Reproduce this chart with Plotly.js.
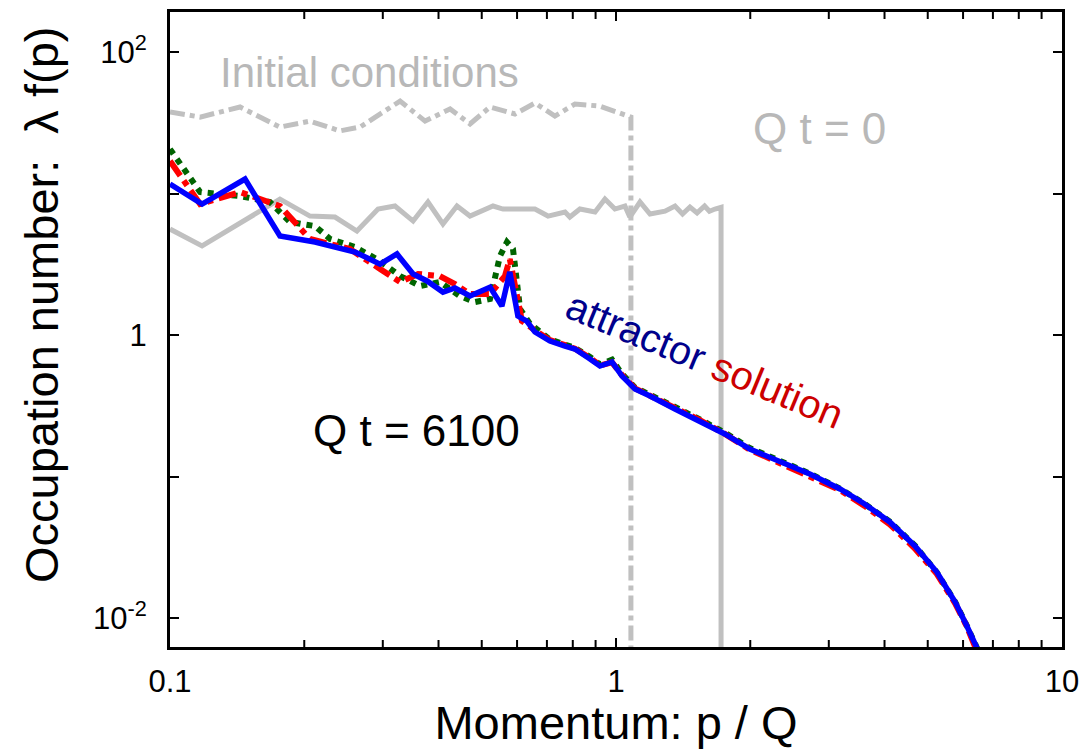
<!DOCTYPE html>
<html>
<head>
<meta charset="utf-8">
<script src="https://cdn.plot.ly/plotly-3.0.1.min.js"></script>
<style>html,body{margin:0;padding:0;background:#fff;}</style>
</head>
<body>
<div id="chart" style="width:1081px;height:749px;"></div>
<script>
// Initial conditions (Q t = 0), dash-dot gray
const initP = [0.1, 0.1168, 0.1436, 0.1764, 0.206, 0.2405, 0.2667, 0.328, 0.3732, 0.4246, 0.4706, 0.5218, 0.5935, 0.658, 0.7295, 0.809, 0.9204, 1.0472, 1.08, 1.08];
const initF = [37.7, 34.7, 40.9, 29.5, 32.5, 27.7, 29.5, 45.0, 32.5, 39.6, 31.0, 40.9, 36.5, 43.6, 35.3, 42.9, 41.5, 36.5, 34.7, 0.001];

// Initial conditions (Q t = 0), solid gray
const qt0P = [0.1, 0.118, 0.1764, 0.206, 0.2344, 0.2625, 0.2927, 0.3195, 0.3508, 0.3788, 0.4093, 0.44, 0.4706, 0.53, 0.558, 0.6095, 0.658, 0.704, 0.7685, 0.788, 0.83, 0.8974, 0.9445, 0.9943, 1.0472, 1.074, 1.132, 1.192, 1.288, 1.356, 1.41, 1.465, 1.52, 1.58, 1.62, 1.667, 1.72, 1.72];
const qt0F = [5.61, 4.26, 9.14, 6.93, 6.82, 5.43, 7.77, 8.16, 6.39, 8.71, 6.09, 8.16, 6.93, 8.16, 7.77, 7.77, 7.77, 6.93, 7.4, 6.82, 7.77, 7.4, 9.14, 7.77, 8.16, 6.82, 8.71, 7.16, 7.5, 8.16, 7.16, 8.03, 7.3, 8.16, 7.5, 7.77, 8.0, 0.001];

// Q t = 6100, blue solid
const blueP = [0.1, 0.118, 0.1473, 0.1764, 0.2113, 0.2405, 0.26, 0.2958, 0.3228, 0.3508, 0.377, 0.4093, 0.4355, 0.4706, 0.5218, 0.5548, 0.578, 0.6026, 0.631, 0.658, 0.7112, 0.7685, 0.809, 0.8744, 0.9204, 0.9795, 1.0315, 1.103, 1.192, 1.356, 1.542, 1.754, 1.995, 2.33, 2.72, 3.18, 3.61, 4.11, 4.68, 5.24, 5.76, 6.12, 6.38, 6.55];
const blueF = [11.67, 8.43, 12.66, 5.01, 4.54, 4.05, 3.86, 3.17, 3.74, 2.70, 2.41, 2.01, 2.15, 1.887, 2.18, 1.603, 2.79, 1.362, 1.256, 1.05, 0.907, 0.836, 0.796, 0.6766, 0.604, 0.645, 0.513, 0.415, 0.371, 0.30, 0.247, 0.1997, 0.1564, 0.1266, 0.1042, 0.0816, 0.064, 0.0477, 0.0323, 0.0211, 0.01297, 0.00878, 0.00634, 0.0055];

// red dash-dot
const redP = [0.1, 0.1168, 0.1436, 0.1764, 0.206, 0.2533, 0.2958, 0.328, 0.36, 0.4028, 0.4355, 0.4706, 0.5218, 0.5636, 0.578, 0.5935, 0.6152, 0.658, 0.7112, 0.7685, 0.809, 0.8744, 0.9204, 0.9795, 1.0315, 1.103, 1.192, 1.356, 1.542, 1.754, 1.995, 2.33, 2.72, 3.18, 3.61, 4.11, 4.68, 5.24, 5.76, 6.12, 6.38, 6.55];
const redF = [17.0, 8.43, 10.25, 8.16, 4.77, 4.05, 2.93, 2.37, 2.70, 2.61, 2.29, 1.95, 1.95, 2.61, 3.44, 2.22, 1.256, 1.08, 0.92, 0.85, 0.80, 0.69, 0.61, 0.64, 0.52, 0.42, 0.375, 0.305, 0.25, 0.20, 0.155, 0.125, 0.102, 0.080, 0.062, 0.046, 0.031, 0.0205, 0.0127, 0.0087, 0.0063, 0.0055];

// green dotted
const greenP = [0.1, 0.1168, 0.1436, 0.1675, 0.1858, 0.2113, 0.2286, 0.26, 0.2958, 0.328, 0.364, 0.4028, 0.4467, 0.483, 0.5218, 0.5495, 0.5695, 0.5875, 0.6095, 0.6412, 0.7112, 0.7685, 0.809, 0.8744, 0.9204, 0.9795, 1.0315, 1.103, 1.192, 1.356, 1.542, 1.754, 1.995, 2.33, 2.72, 3.18, 3.61, 4.11, 4.68, 5.24, 5.76, 6.12, 6.38, 6.55];
const greenF = [20.6, 10.25, 9.6, 8.71, 6.29, 5.89, 4.77, 4.19, 3.33, 2.61, 2.22, 2.37, 1.887, 1.71, 1.796, 3.62, 4.54, 4.05, 1.526, 1.20, 0.93, 0.86, 0.81, 0.70, 0.62, 0.67, 0.53, 0.425, 0.38, 0.31, 0.253, 0.204, 0.159, 0.128, 0.105, 0.082, 0.064, 0.048, 0.0325, 0.021, 0.013, 0.0088, 0.0064, 0.0055];

const xTickVals = [0.1, 1, 10];
const xTickText = ['0.1', '1', '10'];
const xMinorVals = [0.2, 0.3, 0.4, 0.5, 0.6, 0.7, 0.8, 0.9, 2, 3, 4, 5, 6, 7, 8, 9];
const yTickVals = [0.01, 0.1, 1, 10, 100];
const yTickText = ['10<sup>-2</sup>', '', '1', '', '10<sup>2</sup>'];

const FONT = 'Liberation Sans, Arial, sans-serif';
const GRAY = '#c0c0c0';

const traces = [
  {x: qt0P, y: qt0F, mode: 'lines', line: {color: GRAY, width: 5}},
  {x: initP, y: initF, mode: 'lines', line: {color: GRAY, width: 5, dash: 'dashdot'}},
  {x: greenP, y: greenF, mode: 'lines', line: {color: '#006400', width: 6, dash: 'dot'}},
  {x: redP, y: redF, mode: 'lines', line: {color: '#ff0000', width: 6, dash: 'dashdot'}},
  {x: blueP, y: blueF, mode: 'lines', line: {color: '#0000ff', width: 5.5}}
];

const axisCommon = {
  type: 'log', showgrid: false, zeroline: false,
  showline: true, linewidth: 3, linecolor: '#000', mirror: 'allticks',
  ticks: 'inside', ticklen: 9, tickwidth: 2, tickcolor: '#000',
  tickfont: {family: FONT, size: 31, color: '#000'},
  tickmode: 'array'
};

// minor x ticks (bottom and top), placed through the x axis scale
const minorLen = 7 / 635;
const minorShapes = [];
xMinorVals.forEach(v => {
  minorShapes.push({type: 'line', xref: 'x', yref: 'paper', x0: v, x1: v, y0: 0, y1: minorLen, line: {color: '#000', width: 2}, layer: 'above'});
  minorShapes.push({type: 'line', xref: 'x', yref: 'paper', x0: v, x1: v, y0: 1 - minorLen, y1: 1, line: {color: '#000', width: 2}, layer: 'above'});
});

const layout = {
  width: 1081, height: 749,
  margin: {l: 170, r: 19, t: 12, b: 102},
  paper_bgcolor: '#fff', plot_bgcolor: '#fff',
  showlegend: false,
  font: {family: FONT, color: '#000'},
  xaxis: Object.assign({}, axisCommon, {
    range: [-1, 1],
    tickvals: xTickVals, ticktext: xTickText,
    ticklabelstandoff: 5,
    title: {text: 'Momentum: p / Q', font: {family: FONT, size: 47, color: '#000'}, standoff: 6}
  }),
  yaxis: Object.assign({}, axisCommon, {
    range: [-2.205, 2.283],
    tickvals: yTickVals, ticktext: yTickText,
    ticklabelstandoff: 14
  }),
  shapes: minorShapes,
  annotations: [
    {xref: 'paper', yref: 'paper', x: -0.1435, y: 0.5386, xanchor: 'center', yanchor: 'middle', showarrow: false,
     textangle: -90, text: 'Occupation number:  \u03bb f(p)', font: {family: FONT, size: 47, color: '#000'}},
    {xref: 'paper', yref: 'paper', x: 0.0538, y: 0.9055, xanchor: 'left', yanchor: 'middle', showarrow: false,
     text: 'Initial conditions', font: {family: FONT, size: 42, color: '#b8b8b8'}},
    {xref: 'paper', yref: 'paper', x: 0.7276, y: 0.8173, xanchor: 'center', yanchor: 'middle', showarrow: false,
     text: 'Q t = 0', font: {family: FONT, size: 44, color: '#b8b8b8'}},
    {xref: 'paper', yref: 'paper', x: 0.2758, y: 0.3417, xanchor: 'center', yanchor: 'middle', showarrow: false,
     text: 'Q t = 6100', font: {family: FONT, size: 44, color: '#000'}},
    {xref: 'paper', yref: 'paper', x: 0.5998, y: 0.452, xanchor: 'center', yanchor: 'middle', showarrow: false,
     textangle: 22.5,
     text: '<span style="color:#00008b">attractor</span> <span style="color:#cc0000">solution</span>',
     font: {family: FONT, size: 40, color: '#00008b'}}
  ]
};

Plotly.newPlot('chart', traces, layout, {displayModeBar: false, staticPlot: true});
</script>
</body>
</html>
